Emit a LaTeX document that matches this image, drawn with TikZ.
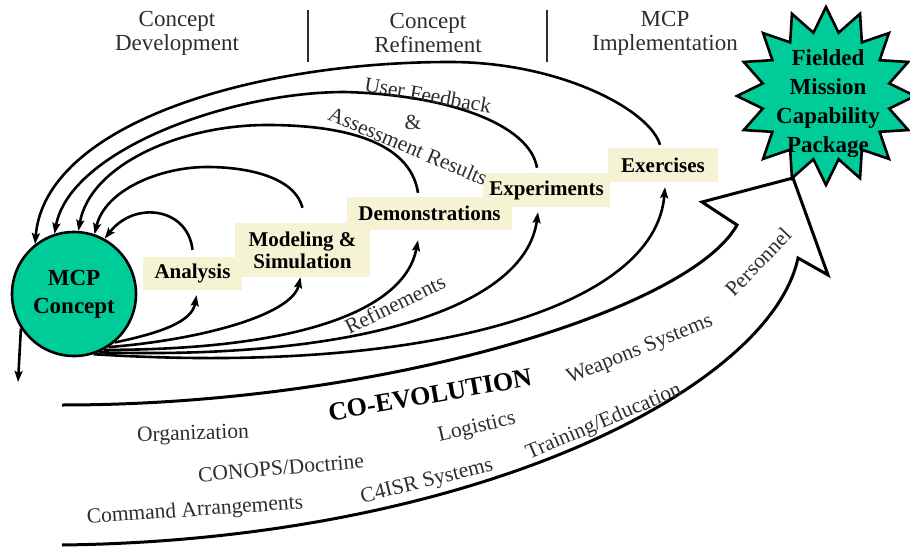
\documentclass[tikz,border=0pt]{standalone}
\usepackage{fontspec}
\setmainfont{Liberation Serif}
\usetikzlibrary{arrows.meta,shapes.geometric}
\definecolor{mcpgreen}{RGB}{0,204,153}
\definecolor{boxbeige}{RGB}{246,242,212}
\definecolor{txtgray}{RGB}{45,45,45}
\begin{document}
\begin{tikzpicture}[x=1pt,y=-1pt,
  lw/.style={line width=2.6pt},
  arr/.style={lw,-{Stealth[length=11pt,width=8pt,inset=2pt]}},
  stepbox/.style={fill=boxbeige,inner sep=0pt,font=\fontsize{21}{22}\selectfont\bfseries,align=center},
  lbl/.style={font=\fontsize{21.5}{23}\selectfont,text=txtgray,inner sep=0pt},
  hdr/.style={font=\fontsize{23}{24}\selectfont,text=txtgray,align=center,inner sep=0pt}]
\useasboundingbox (0,0) rectangle (910,548);

% header
\node[hdr] (h1) at (177,33) {Concept\\Development};
\node[hdr] (h2) at (428,33) {Concept\\Refinement};
\node[hdr] (h3) at (665,33) {MCP\\Implementation};
\draw[line width=2pt,txtgray] (308,10) -- (308,62);
\draw[line width=2pt,txtgray] (547,10) -- (547,62);

% concept circle
\node[circle,draw,lw,fill=mcpgreen,minimum size=124pt,inner sep=0pt,
      font=\fontsize{23}{28}\selectfont\bfseries,align=center] (mcp) at (74,294) {MCP\\Concept};

% steps
\node[stepbox,minimum width=99pt,minimum height=33pt] (ana) at (192.5,273.5) {Analysis};
\node[stepbox,minimum width=135pt,minimum height=54pt] (ms) at (302.5,250) {Modeling \&\\Simulation};
\node[stepbox,minimum width=165pt,minimum height=33pt] (demo) at (429.5,213.5) {Demonstrations};
\node[stepbox,minimum width=127pt,minimum height=34pt] (expt) at (546.5,190) {Experiments};
\node[stepbox,minimum width=110pt,minimum height=34pt] (exer) at (663,165) {Exercises};

% feedback arcs
\draw[arr] ([yshift=7pt]ana.north) .. controls (188,208) and (135,200) .. (mcp.61);
\draw[arr] ([yshift=15pt]ms.north) .. controls (295,178) and (250,167) .. (207,167)
           .. controls (160,167) and (105,190) .. (mcp.71);
\draw[arr] ([xshift=-11.5pt,yshift=4pt]demo.north) .. controls (410,140) and (340,125) .. (267,125)
           .. controls (180,125) and (90,165) .. (mcp.86);
\draw[arr] ([xshift=-9.5pt,yshift=5pt]expt.north) .. controls (530,125) and (450,95) .. (345,92)
           .. controls (230,92) and (70,150) .. (mcp.108);
\draw[arr] ([xshift=-3pt,yshift=3pt]exer.north) .. controls (650,110) and (560,62) .. (450,62)
           .. controls (250,62) and (45,125) .. (mcp.128);

% forward arcs
\draw[arr] (mcp.-50) .. controls (160,333) and (192,322) .. ([xshift=4pt,yshift=-5pt]ana.south);
\draw[arr] (mcp.-57) .. controls (200,340) and (292,315) .. ([xshift=-2pt]ms.south);
\draw[arr] (mcp.-62) .. controls (300,350) and (405,310) .. ([xshift=-11.5pt,yshift=-10pt]demo.south);
\draw[arr] (mcp.-67) .. controls (350,360) and (525,310) .. ([xshift=-8.5pt,yshift=-5pt]expt.south);
\draw[arr] (mcp.-72) .. controls (420,375) and (655,310) .. ([xshift=2pt,yshift=-5pt]exer.south);

% downward arrow
\coordinate (dn) at (18,382);
\draw[arr] (mcp.213) -- (dn);

% arc labels
\node[lbl,rotate=-10] (uf) at (428,95) {User Feedback};
\node[lbl] (amp) at (413,122) {\&};
\node[lbl,rotate=-23] (ar) at (408,146) {Assessment Results};
\node[lbl,rotate=26] (refl) at (395,304) {Refinements};

% starburst
\node[star,star points=16,star point ratio=1.38,minimum size=178pt,inner sep=0pt,
      draw,lw,fill=mcpgreen] (burst) at (826,96) {};

% co-evolution band arrow
\draw[line width=3pt,line join=miter] (62,545) .. controls (470,540) and (770,390) .. (798,258)
   -- (828,275) -- (793,178) -- (702,202) -- (737,225)
   .. controls (690,310) and (380,405) .. (62,405);

\node[font=\fontsize{23}{29}\selectfont\bfseries,align=center,inner sep=0pt] (fmcp) at (828,104)
   {Fielded\\Mission\\Capability\\Package};

% band labels
\node[font=\fontsize{26}{28}\selectfont\bfseries,rotate=10,inner sep=0pt] (coev) at (430,395) {CO-EVOLUTION};
\node[lbl,rotate=2] (org) at (193,435) {Organization};
\node[lbl,rotate=5] (conops) at (281,468) {CONOPS/Doctrine};
\node[lbl,rotate=4] (cmd) at (195,511) {Command Arrangements};
\node[lbl,rotate=14] (c4) at (427,482) {C4ISR Systems};
\node[lbl,rotate=13] (log) at (477,428) {Logistics};
\node[lbl,rotate=23] (train) at (604,422) {Training/Education};
\node[lbl,rotate=22] (weap) at (640,350) {Weapons Systems};
\node[lbl,rotate=46] (pers) at (758,262) {Personnel};
\end{tikzpicture}
\end{document}
